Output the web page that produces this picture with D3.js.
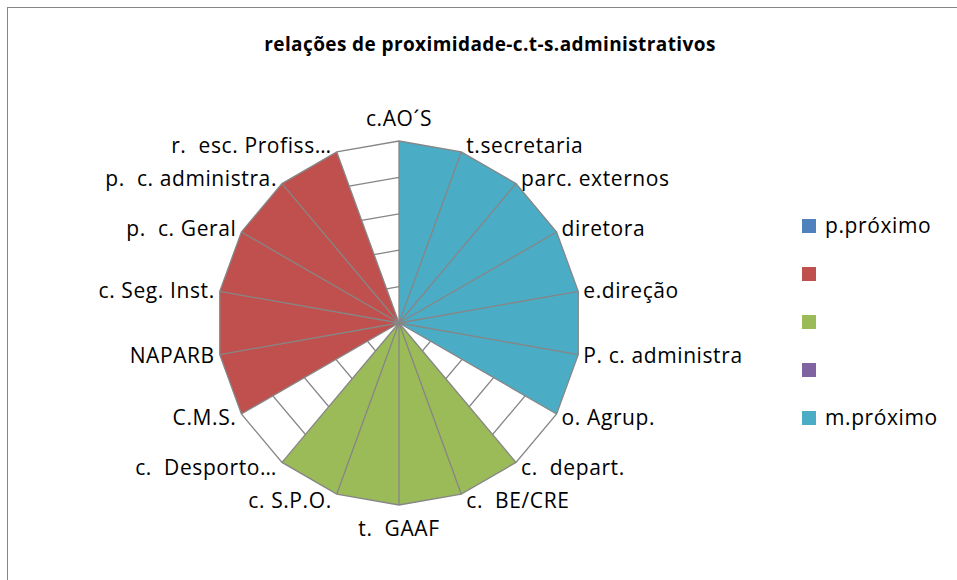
<!DOCTYPE html>
<html>
<head>
<meta charset="utf-8">
<script src="https://cdn.jsdelivr.net/npm/d3@7"></script>
<style>
  body { margin: 0; background: #fff; }
  text { font-family: "Open Sans", sans-serif; fill: #000; white-space: pre; }
</style>
</head>
<body>
<div id="chart"></div>
<script>
// categories of the radar (clockwise from the top)
var categories = ["c.AO´S", "t.secretaria", "parc. externos", "diretora", "e.direção",
  "P. c. administra", "o. Agrup.", "c.  depart.", "c.  BE/CRE", "t.  GAAF", "c. S.P.O.",
  "c.  Desporto…", "C.M.S.", "NAPARB", "c. Seg. Inst.", "p.  c. Geral",
  "p.  c. administra.", "r.  esc. Profiss…"];

// series values, one per category
var pProximo = [0, 0, 0, 0, 0, 0, 0, 0, 0, 0, 0, 0, 0, 0, 0, 0, 0, 0];
var serie2   = [0, 0, 0, 0, 0, 0, 0, 0, 0, 0, 0, 0, 5, 5, 5, 5, 5, 5];
var serie3   = [0, 0, 0, 0, 0, 0, 0, 5, 5, 5, 5, 5, 0, 0, 0, 0, 0, 0];
var serie4   = [0, 0, 0, 0, 0, 0, 0, 0, 0, 0, 0, 0, 0, 0, 0, 0, 0, 0];
var mProximo = [5, 5, 5, 5, 5, 5, 5, 0, 0, 0, 0, 0, 0, 0, 0, 0, 0, 0];

var seriesNames = ["p.próximo", "", "", "", "m.próximo"];
var rTicks = [1, 2, 3, 4, 5];

var width = 957, height = 580;
var cx = 399, cy = 323, radius = 182;
var colors = ["#4F81BD", "#C0504D", "#9BBB59", "#8064A2", "#4BACC6"];
var gridColor = "#868686";

var series = [pProximo, serie2, serie3, serie4, mProximo];

var svg = d3.select("#chart").append("svg")
  .attr("width", width)
  .attr("height", height);

// chart area border
svg.append("rect")
  .attr("x", 7.5).attr("y", 7.5)
  .attr("width", width + 20).attr("height", height + 20)
  .attr("fill", "#fff")
  .attr("stroke", gridColor)
  .attr("stroke-width", 1);

svg.append("text")
  .attr("x", 490).attr("y", 51)
  .attr("text-anchor", "middle")
  .style("font-size", "19px")
  .style("font-weight", "bold")
  .style("letter-spacing", "0.4px")
  .text("relações de proximidade-c.t-s.administrativos");

var angle = d3.scaleLinear()
  .domain([0, categories.length])
  .range([0, 2 * Math.PI]);
var r = d3.scaleLinear().domain([0, 5]).range([0, radius]);

var g = svg.append("g").attr("transform", "translate(" + cx + "," + cy + ")");

// rings (behind the fills)
var ring = d3.lineRadial()
  .angle(function(d, i) { return angle(i); })
  .radius(function(d) { return r(d); })
  .curve(d3.curveLinearClosed);

g.selectAll(".ring")
  .data(rTicks.slice(0, 4))
  .enter().append("path")
  .attr("class", "ring")
  .attr("d", function(t) { return ring(categories.map(function() { return t; })); })
  .attr("fill", "none")
  .attr("stroke", gridColor)
  .attr("stroke-width", 1.3);

// filled series
g.selectAll(".area")
  .data(series)
  .enter().append("path")
  .attr("class", "area")
  .attr("d", function(d) { return ring(d); })
  .attr("fill", function(d, i) { return colors[i]; })
  .attr("stroke", "none");

// spokes on top
g.selectAll(".spoke")
  .data(categories)
  .enter().append("line")
  .attr("class", "spoke")
  .attr("x1", 0).attr("y1", 0)
  .attr("x2", function(d, i) { return d3.pointRadial(angle(i), r(5))[0]; })
  .attr("y2", function(d, i) { return d3.pointRadial(angle(i), r(5))[1]; })
  .attr("stroke", gridColor)
  .attr("stroke-width", 1.3);

// outer ring
g.append("path")
  .attr("d", ring(categories.map(function() { return 5; })))
  .attr("fill", "none")
  .attr("stroke", gridColor)
  .attr("stroke-width", 1.3);

// category labels
g.selectAll(".label")
  .data(categories)
  .enter().append("text")
  .attr("class", "label")
  .style("font-size", "21px")
  .style("letter-spacing", "0.6px")
  .attr("text-anchor", function(d, i) {
    var s = Math.sin(angle(i));
    return Math.abs(s) < 0.01 ? "middle" : (s > 0 ? "start" : "end");
  })
  .attr("x", function(d, i) {
    var p = d3.pointRadial(angle(i), r(5)), s = Math.sin(angle(i));
    return Math.abs(s) < 0.01 ? p[0] : p[0] + (s > 0 ? 5 : -5);
  })
  .attr("y", function(d, i) {
    var p = d3.pointRadial(angle(i), r(5)), s = Math.sin(angle(i)), c = Math.cos(angle(i));
    var dy = 7.5 - 7 * c;
    if (Math.abs(s) < 0.01) dy -= 16 * c;
    return p[1] + dy;
  })
  .text(function(d) { return d; });

// legend
var legend = svg.append("g").attr("transform", "translate(802,219)");
var item = legend.selectAll(".item")
  .data(seriesNames)
  .enter().append("g")
  .attr("class", "item")
  .attr("transform", function(d, i) { return "translate(0," + (i * 48) + ")"; });
item.append("rect")
  .attr("width", 14).attr("height", 14)
  .attr("fill", function(d, i) { return colors[i]; });
item.append("text")
  .attr("x", 23).attr("y", 14)
  .style("font-size", "21px")
  .style("letter-spacing", "0.6px")
  .text(function(d) { return d; });
</script>
</body>
</html>
